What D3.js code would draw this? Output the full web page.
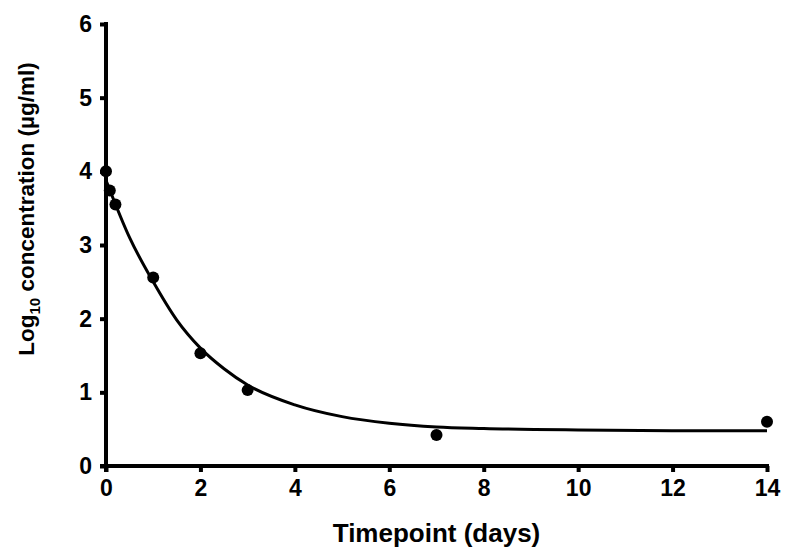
<!DOCTYPE html>
<html>
<head>
<meta charset="utf-8">
<script src="https://cdn.jsdelivr.net/npm/d3@7"></script>
<style>
  body { margin: 0; background: #fff; }
  svg { font-family: "Liberation Sans", Arial, Helvetica, sans-serif; font-weight: bold; }
</style>
</head>
<body>
<div id="chart"></div>
<script>
// measured points (days, log10 conc)
var timepoints = [0, 0.08, 0.2, 1, 2, 3, 7, 14];
var logConc = [4.0, 3.74, 3.55, 2.56, 1.53, 1.03, 0.42, 0.6];

// fitted decay curve
var fitX = [0, 0.5, 1, 1.5, 2, 2.5, 3, 4, 5, 6, 7, 8, 10, 12, 14];
var fitY = [3.88, 3.1, 2.5, 1.98, 1.6, 1.32, 1.1, 0.83, 0.67, 0.58, 0.53, 0.51, 0.49, 0.48, 0.48];

var xTicks = [0, 2, 4, 6, 8, 10, 12, 14];
var yTicks = [0, 1, 2, 3, 4, 5, 6];

var width = 785, height = 548;
var margin = { left: 106, right: 18, top: 24, bottom: 82 };

var svg = d3.select("#chart").append("svg")
    .attr("width", width)
    .attr("height", height);

var x = d3.scaleLinear().domain([0, 14]).range([margin.left, width - margin.right]);
var y = d3.scaleLinear().domain([0, 6]).range([height - margin.bottom, margin.top]);

// axes
var xAxis = svg.append("g")
    .attr("transform", "translate(0," + y(0) + ")")
    .call(d3.axisBottom(x).tickValues(xTicks).tickFormat(d3.format("d"))
        .tickSize(6).tickPadding(8).tickSizeOuter(0));
var yAxis = svg.append("g")
    .attr("transform", "translate(" + x(0) + ",0)")
    .call(d3.axisLeft(y).tickValues(yTicks).tickFormat(d3.format("d"))
        .tickSize(6).tickPadding(8).tickSizeOuter(0));

[xAxis, yAxis].forEach(function (a) {
    a.select(".domain").attr("stroke", "#000").attr("stroke-width", 4);
    a.selectAll(".tick line").attr("stroke", "#000").attr("stroke-width", 4);
    a.selectAll(".tick text").attr("fill", "#000").style("font-size", "23px").style("font-weight", "bold");
});
// extend axis lines to the corner like the original
xAxis.select(".domain").attr("d", "M" + (x(0) - 6) + ",0H" + (x(14) + 2));
yAxis.select(".domain").attr("d", "M0," + (y(0) + 6) + "V" + (y(6) - 2));

// fitted line
var line = d3.line()
    .x(function (d, i) { return x(fitX[i]); })
    .y(function (d) { return y(d); })
    .curve(d3.curveMonotoneX);

svg.append("path")
    .datum(fitY)
    .attr("d", line)
    .attr("fill", "none")
    .attr("stroke", "#000")
    .attr("stroke-width", 3);

// points
svg.selectAll("circle.pt")
    .data(timepoints)
    .enter().append("circle")
    .attr("class", "pt")
    .attr("cx", function (d) { return x(d); })
    .attr("cy", function (d, i) { return y(logConc[i]); })
    .attr("r", 6)
    .attr("fill", "#000");

// axis titles
svg.append("text")
    .attr("x", (x(0) + x(14)) / 2)
    .attr("y", 542)
    .attr("text-anchor", "middle")
    .style("font-size", "26px")
    .text("Timepoint (days)");

var yt = svg.append("text")
    .attr("transform", "translate(34," + 209 + ") rotate(-90)")
    .attr("text-anchor", "middle")
    .style("font-size", "22.5px");
yt.append("tspan").text("Log");
yt.append("tspan").attr("dy", 6).style("font-size", "15px").text("10");
yt.append("tspan").attr("dy", -6).text(" concentration (µg/ml)");
</script>
</body>
</html>
